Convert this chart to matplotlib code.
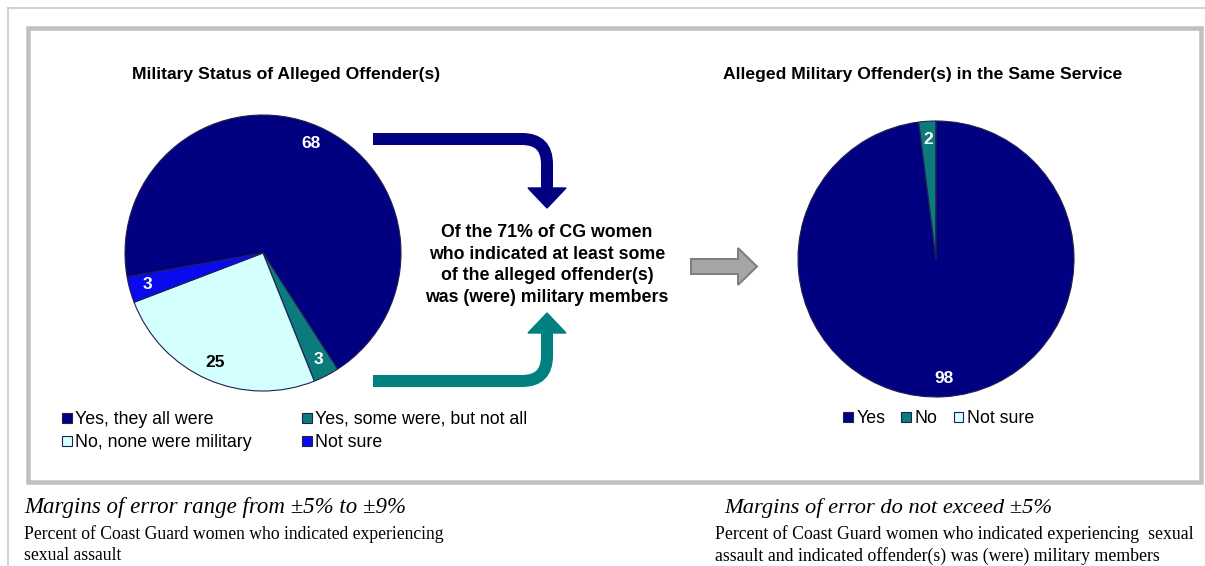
import matplotlib.pyplot as plt
from matplotlib.path import Path
from matplotlib.patches import PathPatch, Polygon, Rectangle

plt.rcParams['font.family'] = ['Liberation Sans', 'DejaVu Sans']

# data
status_labels = ['Yes, they all were', 'Yes, some were, but not all',
                 'No, none were military', 'Not sure']
status_values = [68, 3, 25, 3]
status_colors = ['#000080', '#0b7b7b', '#d4ffff', '#0a0aee']
status_text = ['white', 'white', 'black', 'white']

same_labels = ['Yes', 'No', 'Not sure']
same_values = [98, 2, 0]
same_colors = ['#000080', '#0b7b7b', '#d4ffff']
same_text = ['white', 'white', 'black']

W, H = 1205, 566
fig = plt.figure(figsize=(W / 100, H / 100), dpi=100)
bg = fig.add_axes([0, 0, 1, 1])
bg.set_xlim(0, W)
bg.set_ylim(H, 0)
bg.axis('off')


def px(v):
    return v * 72 / 100.0


def draw_pie(cx, cy, r, values, colors, tcolors, start):
    s = 2.2 * r
    ax = fig.add_axes([(cx - s / 2) / W, (H - cy - s / 2) / H, s / W, s / H])
    total = sum(values)
    wedges, _, autos = ax.pie(
        values, colors=colors, startangle=start, counterclock=False,
        autopct=lambda p: '%d' % round(p * total / 100) if p > 0.5 else '',
        pctdistance=0.87,
        wedgeprops=dict(edgecolor='#202050', linewidth=0.8),
        textprops=dict(fontsize=12.5, fontweight='bold'))
    for t, c in zip(autos, tcolors):
        t.set_color(c)
    ax.set_xlim(-1.1, 1.1)
    ax.set_ylim(-1.1, 1.1)
    ax.set_aspect('equal')
    ax.axis('off')
    return wedges


# frames
bg.plot([7.5, 7.5], [H, 7.5], color='#c8c8c8', lw=px(1.6))
bg.plot([7.5, W], [7.5, 7.5], color='#c8c8c8', lw=px(1.6))
bg.add_patch(Rectangle((28, 28), 1173, 454, fill=False,
                       edgecolor='#c0c0c0', lw=px(4.5)))

# titles
bg.text(286, 74, 'Military Status of Alleged Offender(s)', ha='center',
        va='center', fontsize=12.6, fontweight='bold')
bg.text(923, 74, 'Alleged Military Offender(s) in the Same Service',
        ha='center', va='center', fontsize=12.6, fontweight='bold')

# pies
w1 = draw_pie(263, 253, 138, status_values, status_colors, status_text, 190)
w2 = draw_pie(936, 259, 138, same_values, same_colors, same_text, 90)

order = [0, 2, 1, 3]
fig.legend([w1[i] for i in order], [status_labels[i] for i in order],
           ncol=2, loc='upper left', bbox_to_anchor=(62 / W, 1 - 411 / H),
           frameon=False, fontsize=12.8, handlelength=0.55, handleheight=0.5,
           handletextpad=0.2, columnspacing=2.8, labelspacing=0.35,
           borderpad=0, borderaxespad=0)
fig.legend(w2, same_labels, ncol=3, loc='upper left',
           bbox_to_anchor=(843 / W, 1 - 410 / H), frameon=False,
           fontsize=12.8, handlelength=0.55, handleheight=0.5,
           handletextpad=0.2, columnspacing=0.9, borderpad=0, borderaxespad=0)

# curved arrows
navy, teal = '#000080', '#008080'
codes = [Path.MOVETO, Path.LINETO, Path.CURVE3, Path.CURVE3, Path.LINETO]
bg.add_patch(PathPatch(Path([(373, 139), (522, 139), (547, 139), (547, 164),
                             (547, 189)], codes),
                       fill=False, edgecolor=navy, lw=px(12), capstyle='butt'))
bg.add_patch(Polygon([(528, 188), (566, 188), (547, 208)], color=navy))
bg.add_patch(PathPatch(Path([(373, 381), (522, 381), (547, 381), (547, 356),
                             (547, 332)], codes),
                       fill=False, edgecolor=teal, lw=px(12), capstyle='butt'))
bg.add_patch(Polygon([(528, 333), (566, 333), (547, 313)], color=teal))

bg.text(547, 265, 'Of the 71% of CG women\nwho indicated at least some\n'
        'of the alleged offender(s)\nwas (were) military members',
        ha='center', va='center', fontsize=12.8, fontweight='bold',
        linespacing=1.37)

# gray block arrow
bg.add_patch(Polygon([(691, 259), (738, 259), (738, 248), (757, 266.5),
                      (738, 285), (738, 274), (691, 274)],
                     facecolor='#a6a6a6', edgecolor='#7f7f7f', lw=px(2)))

# notes
serif = ['Liberation Serif', 'DejaVu Serif']
bg.text(24, 508, 'Margins of error range from \u00b15% to \u00b19%',
        family=serif, style='italic', fontsize=16.5, va='center')
bg.text(24, 545, 'Percent of Coast Guard women who indicated experiencing\n'
        'sexual assault', family=serif, fontsize=12.7, va='center',
        linespacing=1.3)
bg.text(724, 508, 'Margins of error do not exceed \u00b15%',
        family=serif, style='italic', fontsize=16.2, va='center')
bg.text(715, 545, 'Percent of Coast Guard women who indicated experiencing  '
        'sexual\nassault and indicated offender(s) was (were) military members',
        family=serif, fontsize=12.8, va='center', linespacing=1.3)

fig.savefig('out.png', dpi=100)
